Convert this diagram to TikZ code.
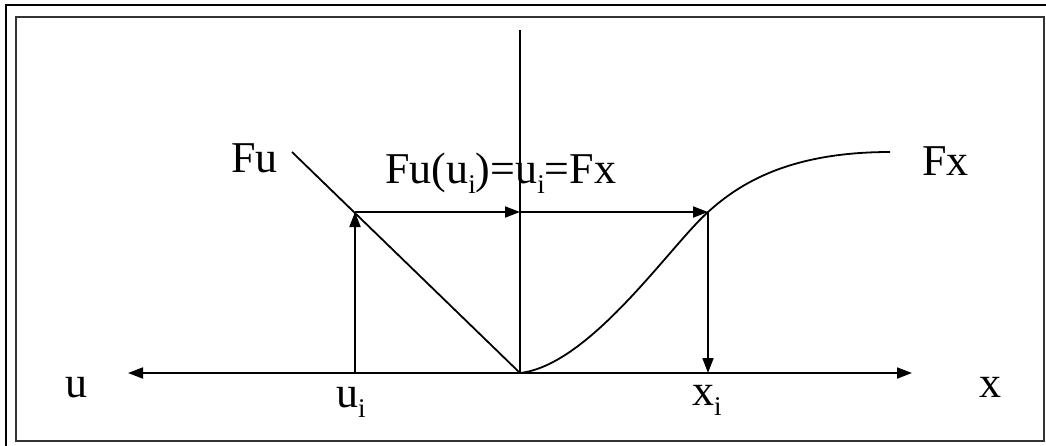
\documentclass[tikz,border=0pt]{standalone}
\usepackage{fontspec}
\setmainfont{Liberation Serif}
\usetikzlibrary{arrows.meta}
\newcommand\sbi[1]{\raisebox{-10pt}{\fontsize{27}{30}\selectfont #1}}
\begin{document}
\begin{tikzpicture}[x=1pt,y=-1pt,
  ln/.style={line width=1.8pt,black},
  arr/.style={ln,-{Triangle[length=15pt,width=11pt]}},
  lbl/.style={font=\fontsize{44}{52}\selectfont,inner sep=0pt,anchor=base}]
\useasboundingbox (0,0) rectangle (1046,445);
% frames
\draw[line width=1.6pt] (6,447) -- (6,5) -- (1048,5);
\draw[line width=2.2pt,black!80] (16,17) rectangle (1044,441);
% points
\coordinate (O) at (520,373);
\coordinate (L) at (128,373);
\coordinate (R) at (912,373);
\coordinate (T) at (520,30);
\coordinate (FuS) at (292,152);
\coordinate (P) at (355,212);
\coordinate (Ui) at (355,373);
\coordinate (M) at (520,212);
\coordinate (Q) at (708,212);
\coordinate (Xi) at (708,373);
\coordinate (FxE) at (890,152);
% axes
\draw[ln,{Triangle[length=15pt,width=11pt]}-{Triangle[length=15pt,width=11pt]}] (L) -- (R);
\draw[ln] (O) -- (T);
% Fu line
\draw[ln] (FuS) -- (O);
% Fx curve
\draw[ln] (O) .. controls (590,365) and (670,246) .. (Q) .. controls (740,183) and (790,152) .. (FxE);
% mapping arrows
\draw[arr] (Ui) -- (P);
\draw[arr] (P) -- (M);
\draw[arr] (M) -- (Q);
\draw[arr] (Q) -- (Xi);
% labels
\node[lbl] (lu) at (76,397) {u};
\node[lbl,anchor=base west] (lui) at (336,407) {u\sbi{i}};
\node[lbl,anchor=base west] (lxi) at (692,405) {x\sbi{i}};
\node[lbl] (lx) at (990,397) {x};
\node[lbl,anchor=base west] (lFu) at (231,172) {Fu};
\node[lbl,anchor=base west] (lFx) at (922,175) {Fx};
\node[lbl,anchor=base west] (lmid) at (385,183) {Fu(u\sbi{i})=u\sbi{i}=Fx};
\end{tikzpicture}
\end{document}
